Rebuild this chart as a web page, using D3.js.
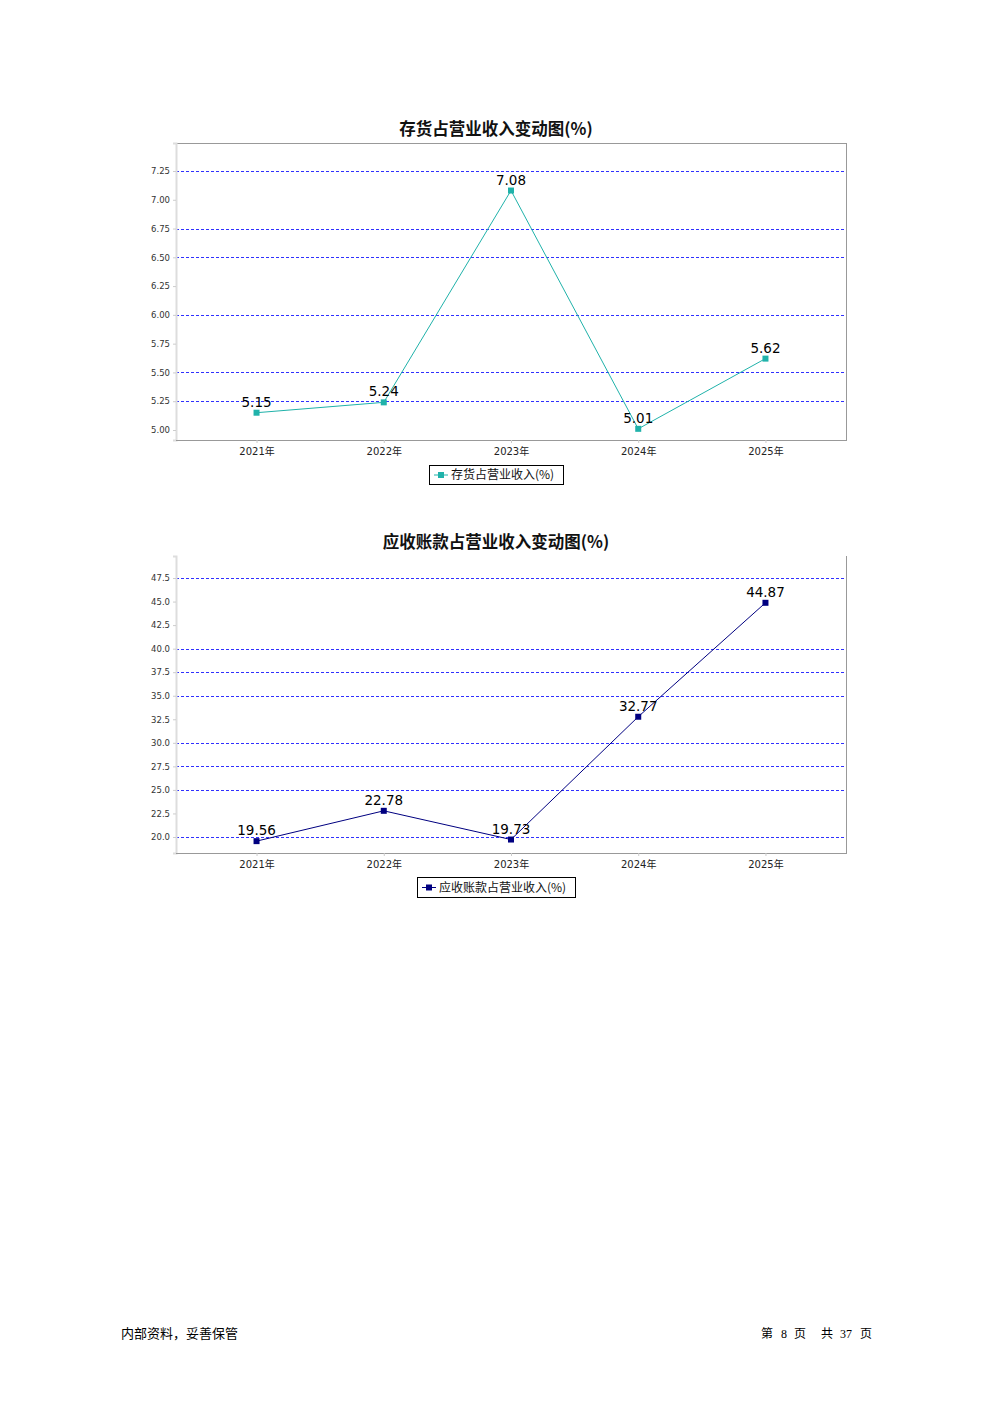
<!DOCTYPE html>
<html>
<head>
<meta charset="utf-8">
<script src="https://cdn.jsdelivr.net/npm/d3@7/dist/d3.min.js"></script>
<style>
html,body{margin:0;padding:0;background:#fff;}
svg{display:block;}
</style>
</head>
<body>
<svg id="page" width="992" height="1403"></svg>
<script>
// ---- data ----
const categories = ["2021年","2022年","2023年","2024年","2025年"];
const inventoryValues = [5.15, 5.24, 7.08, 5.01, 5.62];
const receivableValues = [19.56, 22.78, 19.73, 32.77, 44.87];
const inventoryTicks = [5.00,5.25,5.50,5.75,6.00,6.25,6.50,6.75,7.00,7.25];
const receivableTicks = [20.0,22.5,25.0,27.5,30.0,32.5,35.0,37.5,40.0,42.5,45.0,47.5];
// grid lines that are visible in the reference
const inventoryGrid = [5.25,5.50,6.00,6.50,6.75,7.25];
const receivableGrid = [20.0,25.0,27.5,30.0,35.0,37.5,40.0,47.5];

const svg = d3.select("#page");
const FONT = "'DejaVu Sans', 'Noto Sans CJK SC', sans-serif";
const CJK = "'Noto Sans CJK SC', sans-serif";

function drawChart(cfg){
  const g = svg.append("g");
  const x = d3.scalePoint().domain(categories).range([cfg.left, cfg.right]).padding(0.633);
  const y = d3.scaleLinear().domain(cfg.domain).range([cfg.bottom, cfg.top]);

  // title
  g.append("text").attr("x", 496).attr("y", cfg.titleY)
    .attr("text-anchor","middle").attr("font-family",CJK)
    .attr("font-weight","bold").attr("font-size",16.5).attr("fill","#111").text(cfg.title);

  // frame
  if (cfg.topBorder) {
    g.append("line").attr("x1",cfg.left).attr("x2",cfg.right).attr("y1",cfg.top+0.5).attr("y2",cfg.top+0.5)
      .attr("stroke","#999").attr("stroke-width",1);
  }
  g.append("line").attr("x1",cfg.right+0.5).attr("x2",cfg.right+0.5).attr("y1",cfg.top).attr("y2",cfg.bottom)
    .attr("stroke","#999").attr("stroke-width",1);

  // grid
  g.selectAll(".grid").data(cfg.grid).join("line")
    .attr("x1",cfg.left).attr("x2",cfg.right)
    .attr("y1",d=>Math.round(y(d))+0.5).attr("y2",d=>Math.round(y(d))+0.5)
    .attr("stroke","#3030ff").attr("stroke-width",1).attr("stroke-dasharray","3,2");

  // y axis
  const yAxis = d3.axisLeft(y).tickValues(cfg.ticks).tickFormat(d3.format(cfg.fmt)).tickSize(3).tickPadding(3);
  const ya = g.append("g").attr("transform",`translate(${cfg.left},0)`).call(yAxis);
  ya.select(".domain").attr("stroke","#ddd").attr("stroke-width",2);
  ya.selectAll(".tick line").attr("stroke","#ccc");
  ya.selectAll(".tick text").attr("font-family",FONT).attr("font-size",8.5).attr("fill","#333");

  // x axis
  const xAxis = d3.axisBottom(x).tickSize(3).tickPadding(5);
  const xa = g.append("g").attr("transform",`translate(0,${cfg.bottom})`).call(xAxis);
  xa.select(".domain").attr("stroke","#999").attr("d",`M${cfg.left},0.5H${cfg.right+1}`);
  xa.selectAll(".tick line").attr("stroke","#ccc");
  xa.selectAll(".tick text").attr("font-family",FONT).attr("font-size",10).attr("fill","#222");

  // line
  const data = categories.map((c,i)=>({c, v: cfg.values[i]}));
  g.append("path").datum(data)
    .attr("d", d3.line().x(d=>x(d.c)).y(d=>y(d.v)))
    .attr("fill","none").attr("stroke",cfg.color).attr("stroke-width",1);
  g.selectAll(".pt").data(data).join("rect")
    .attr("x",d=>x(d.c)-3).attr("y",d=>y(d.v)-3).attr("width",6).attr("height",6)
    .attr("fill",cfg.color);
  g.selectAll(".lbl").data(data).join("text")
    .attr("x",d=>x(d.c)).attr("y",d=>y(d.v)-6)
    .attr("text-anchor","middle").attr("font-family",FONT).attr("font-size",13.5).attr("fill","#000")
    .text(d=>cfg.labelFmt(d.v));

  // legend
  const lg = g.append("g");
  lg.append("rect").attr("x",cfg.legend[0]+0.5).attr("y",cfg.legend[1]+0.5)
    .attr("width",cfg.legend[2]).attr("height",cfg.legend[3])
    .attr("fill","#fff").attr("stroke","#000").attr("stroke-width",1);
  const ly = cfg.legend[1] + cfg.legend[3]/2 + 0.5;
  lg.append("line").attr("x1",cfg.legend[0]+5).attr("x2",cfg.legend[0]+19).attr("y1",ly).attr("y2",ly)
    .attr("stroke",cfg.color).attr("stroke-width",1);
  lg.append("rect").attr("x",cfg.legend[0]+9).attr("y",ly-3).attr("width",6).attr("height",6).attr("fill",cfg.color);
  lg.append("text").attr("x",cfg.legend[0]+22).attr("y",ly+4)
    .attr("font-family",CJK).attr("font-size",12).attr("fill","#111")
    .text(cfg.legendText);
}

drawChart({
  title:"存货占营业收入变动图(%)", titleY:135,
  left:176, right:846, top:143, bottom:440, topBorder:true,
  domain:[4.913, 7.493], ticks:inventoryTicks, grid:inventoryGrid, fmt:".2f",
  values:inventoryValues, color:"#20B2AA", labelFmt:d3.format(".2f"),
  legend:[429,465,134,19], legendText:"存货占营业收入(%)"
});

drawChart({
  title:"应收账款占营业收入变动图(%)", titleY:548,
  left:176, right:846, top:556, bottom:853, topBorder:false,
  domain:[18.30, 49.84], ticks:receivableTicks, grid:receivableGrid, fmt:".1f",
  values:receivableValues, color:"#000080", labelFmt:d3.format(".2f"),
  legend:[417,877,158,20], legendText:"应收账款占营业收入(%)"
});

// footer
svg.append("text").attr("x",121).attr("y",1338).attr("font-family",CJK)
  .attr("font-size",13).attr("fill","#000").text("内部资料，妥善保管");
const footerParts = [["第",761,CJK],["8",781,"'Liberation Serif', serif"],["页",794,CJK],["共",821,CJK],["37",840,"'Liberation Serif', serif"],["页",860,CJK]];
svg.selectAll(".ft").data(footerParts).join("text")
  .attr("x",d=>d[1]).attr("y",1338).attr("font-family",d=>d[2])
  .attr("font-size",12).attr("fill","#000").text(d=>d[0]);
</script>
</body>
</html>
